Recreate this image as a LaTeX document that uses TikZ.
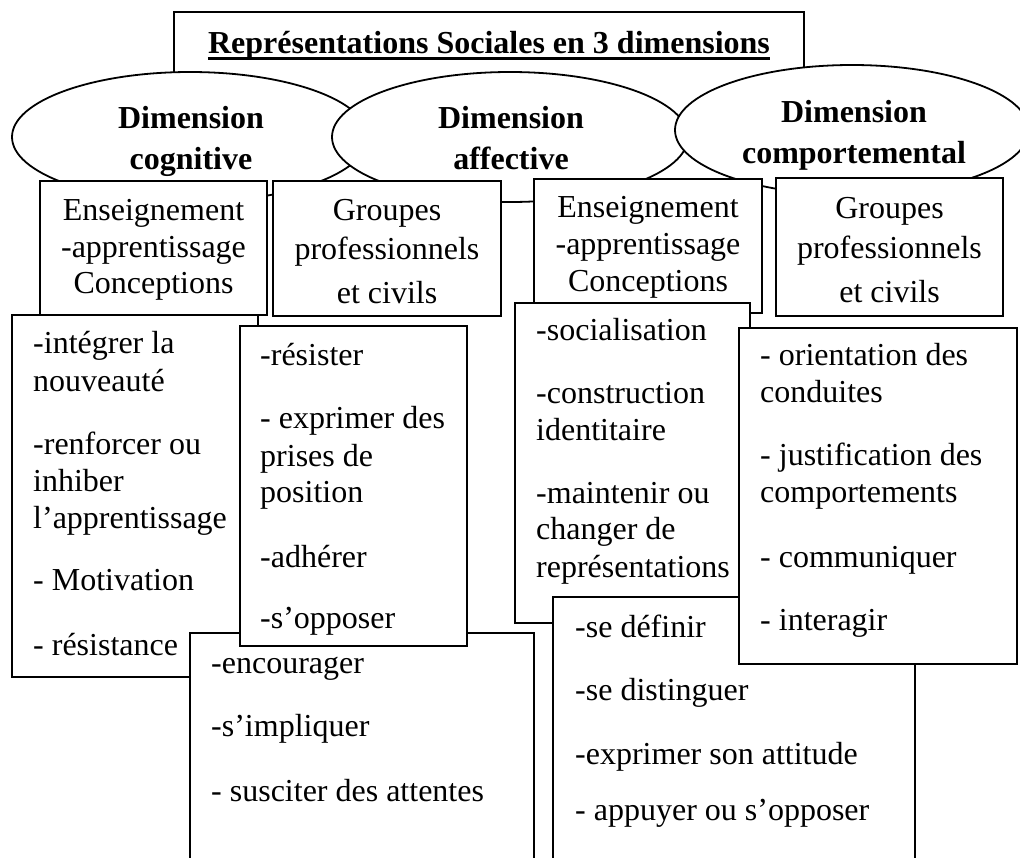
\documentclass[tikz,border=0pt]{standalone}
\usepackage{fontspec}
\setmainfont{Liberation Serif}
\usetikzlibrary{shapes.geometric}
\begin{document}
\begin{tikzpicture}[x=1pt,y=-1pt,
  panel/.style={draw, fill=white, line width=1.8pt, rectangle, inner sep=0pt},
  dimension/.style={draw, fill=white, line width=1.8pt, ellipse, inner sep=0pt},
  entry/.style={anchor=base west, inner sep=0pt, font=\fontsize{32}{37}\selectfont},
  heading/.style={anchor=base, inner sep=0pt, font=\fontsize{32}{37}\selectfont},
  dimtext/.style={anchor=base, inner sep=0pt, font=\fontsize{32}{37}\selectfont\bfseries}]

% page frame
\clip (0,0) rectangle (1020,857);
\fill[white] (0,0) rectangle (1020,857);

% title
\node[panel, minimum width=630pt, minimum height=118pt] (titlebox) at (489,71) {};
\node[dimtext] (title) at (489,53) {Représentations Sociales en 3 dimensions};
\draw[line width=2.6pt] ([yshift=-5.5pt]title.base west) -- ([yshift=-5.5pt]title.base east);

% the three dimensions
\node[dimension, minimum width=356pt, minimum height=130pt] (cog) at (190,137) {};
\node[dimension, minimum width=356pt, minimum height=130pt] (aff) at (510,137) {};
\node[dimension, minimum width=354pt, minimum height=130pt] (comp) at (852,130) {};
\node[dimtext] (cog1) at (191,128) {Dimension};
\node[dimtext] (cog2) at (191,169) {cognitive};
\node[dimtext] (aff1) at (511,128) {Dimension};
\node[dimtext] (aff2) at (511,169) {affective};
\node[dimtext] (comp1) at (854,122) {Dimension};
\node[dimtext] (comp2) at (854,163) {comportemental};

% headings under the dimensions
\node[panel, minimum width=227pt, minimum height=134pt] (ensA) at (153.5,248) {};
\node[panel, minimum width=228pt, minimum height=135pt] (grpB) at (387,248.5) {};
\node[panel, minimum width=228pt, minimum height=134pt] (ensC) at (648,246) {};
\node[panel, minimum width=227pt, minimum height=138pt] (grpD) at (889.5,247) {};

\foreach \txt/\yy [count=\k] in {Enseignement/220, -apprentissage/257, Conceptions/293}
  \node[heading, name=ensAt\k] at (153.5,\yy) {\txt};
\foreach \txt/\yy [count=\k] in {Groupes/220, professionnels/259, {et civils}/303}
  \node[heading, name=grpBt\k] at (387,\yy) {\txt};
\foreach \txt/\yy [count=\k] in {Enseignement/217, -apprentissage/254, Conceptions/291}
  \node[heading, name=ensCt\k] at (648,\yy) {\txt};
\foreach \txt/\yy [count=\k] in {Groupes/218, professionnels/258, {et civils}/302}
  \node[heading, name=grpDt\k] at (889.5,\yy) {\txt};

% left lists
\node[panel, minimum width=246pt, minimum height=362pt] (listE) at (135,496) {};
\foreach \txt/\yy [count=\k] in {{-intégrer la}/353, nouveauté/391, {-renforcer ou}/454,
    inhiber/491, l’apprentissage/528, {- Motivation}/590, {- résistance}/655}
  \node[entry, name=listEt\k] at (33,\yy) {\txt};

\node[panel, minimum width=344pt, minimum height=267pt] (listG) at (362,766.5) {};
\foreach \txt/\yy [count=\k] in {-encourager/673, -s’impliquer/736, {- susciter des attentes}/801}
  \node[entry, name=listGt\k] at (211,\yy) {\txt};

\node[panel, minimum width=227pt, minimum height=320pt] (listF) at (353.5,486) {};
\foreach \txt/\yy [count=\k] in {-résister/365, {- exprimer des}/428, {prises de}/466,
    position/502, -adhérer/567, -s’opposer/628}
  \node[entry, name=listFt\k] at (260,\yy) {\txt};

% right lists
\node[panel, minimum width=235pt, minimum height=320pt] (listH) at (632.5,463) {};
\foreach \txt/\yy [count=\k] in {-socialisation/340, -construction/403, identitaire/440,
    {-maintenir ou}/503, {changer de}/539, représentations/577}
  \node[entry, name=listHt\k] at (536,\yy) {\txt};

\node[panel, minimum width=362pt, minimum height=303pt] (listJ) at (734,748.5) {};
\foreach \txt/\yy [count=\k] in {{-se définir}/637, {-se distinguer}/700,
    {-exprimer son attitude}/764, {- appuyer ou s’opposer}/820}
  \node[entry, name=listJt\k] at (575,\yy) {\txt};

\node[panel, minimum width=278pt, minimum height=336pt] (listI) at (878,496) {};
\foreach \txt/\yy [count=\k] in {{- orientation des}/365, conduites/402, {- justification des}/465,
    comportements/502, {- communiquer}/567, {- interagir}/630}
  \node[entry, name=listIt\k] at (760,\yy) {\txt};

\end{tikzpicture}
\end{document}
